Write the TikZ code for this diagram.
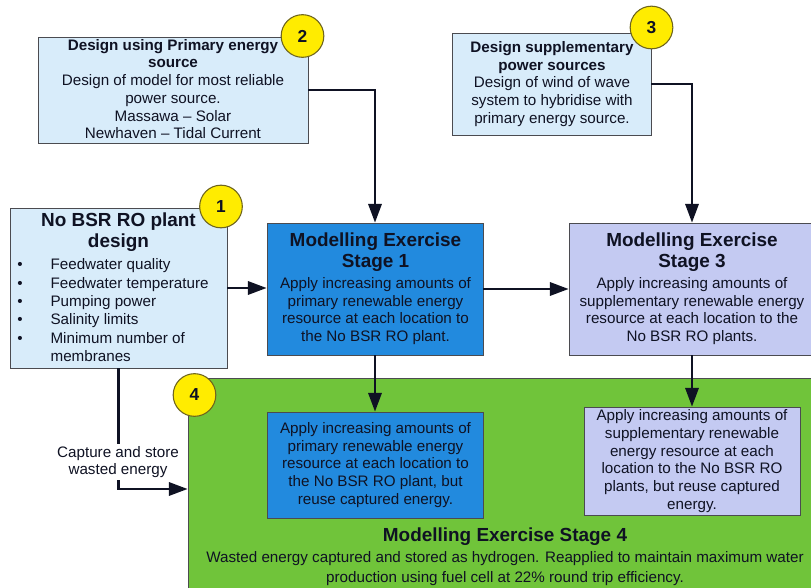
\documentclass[tikz,border=0pt]{standalone}
\usepackage{fontspec}
\setmainfont{Liberation Sans}
\usetikzlibrary{arrows.meta,fit}
\definecolor{lightbox}{RGB}{216,236,250}
\definecolor{stageblue}{RGB}{34,138,222}
\definecolor{lavender}{RGB}{196,202,242}
\definecolor{greenbox}{RGB}{112,196,58}
\definecolor{edgegray}{RGB}{75,75,80}
\definecolor{numyellow}{RGB}{255,236,0}
\definecolor{numedge}{RGB}{110,100,30}
\definecolor{inkcol}{RGB}{15,18,35}
\begin{document}
\begin{tikzpicture}[x=0.75pt,y=-0.75pt,
  box/.style={draw=edgegray, line width=0.6pt, inner sep=0pt},
  bodyf/.style={font=\fontsize{11.4}{13.3}\selectfont, text=inkcol},
  titlef/.style={font=\fontsize{14.2}{15.8}\selectfont\bfseries, text=inkcol},
  arr/.style={draw=inkcol, line width=1.6pt, -{Triangle[length=14pt,width=10pt]}},
  numc/.style={circle, draw=numedge, fill=numyellow, line width=0.8pt, minimum size=32pt, inner sep=0pt, font=\fontsize{13}{15}\selectfont\bfseries, text=inkcol}
]
\useasboundingbox (0,0) rectangle (811,588);
\fill[white] (0,0) rectangle (811,588);

% big green stage 4 box
\node[box, fill=greenbox, fit={(188,378) (822,600)}] (g) {};

% top boxes
\node[box, fill=lightbox, fit={(38,37) (308,143)}] (b2) {};
\node[box, fill=lightbox, fit={(452,33) (651,135)}] (b3) {};
\node[box, fill=lightbox, fit={(10,208) (227,368)}] (b1) {};

% stage boxes
\node[box, fill=stageblue, fit={(267,223) (483,355)}] (s1) {};
\node[box, fill=lavender, fit={(569,223) (815,355)}] (s3) {};
\node[box, fill=stageblue, fit={(267,412) (483,518)}] (s1r) {};
\node[box, fill=lavender, fit={(584,407) (800,515)}] (s3r) {};

% texts
\node[bodyf, align=center] (b2t) at (173,89) {\textbf{Design using Primary energy}\\\textbf{source}\\Design of model for most reliable\\power source.\\Massawa -- Solar\\Newhaven -- Tidal Current};
\node[bodyf, align=center] (b3t) at (552,84) {\textbf{Design supplementary}\\\textbf{power sources}\\Design of wind of wave\\system to hybridise with\\primary energy source.};

\node[titlef, align=center] (b1t) at (118.5,232) {No BSR RO plant\\design};
\node[bodyf, anchor=west, inner sep=0pt] (b1l) at (17,312) {\def\arraystretch{1.04}\begin{tabular}{@{}p{25pt}@{}l@{}}
\textbullet & Feedwater quality\\
\textbullet & Feedwater temperature\\
\textbullet & Pumping power\\
\textbullet & Salinity limits\\
\textbullet & Minimum number of\\
 & membranes
\end{tabular}};

\node[titlef, align=center] (s1t) at (375.5,252) {Modelling Exercise\\Stage 1};
\node[bodyf, align=center] (s1b) at (375.5,311) {Apply increasing amounts of\\primary renewable energy\\resource at each location to\\the No BSR RO plant.};

\node[titlef, align=center] (s3t) at (692,252) {Modelling Exercise\\Stage 3};
\node[bodyf, align=center] (s3b) at (692,311) {Apply increasing amounts of\\supplementary renewable energy\\resource at each location to the\\No BSR RO plants.};

\node[bodyf, align=center] (s1rt) at (375.5,465) {Apply increasing amounts of\\primary renewable energy\\resource at each location to\\the No BSR RO plant, but\\reuse captured energy.};
\node[bodyf, align=center] (s3rt) at (692,461) {Apply increasing amounts of\\supplementary renewable\\energy resource at each\\location to the No BSR RO\\plants, but reuse captured\\energy.};

\node[titlef] (gt) at (505,537) {Modelling Exercise Stage 4};
\node[bodyf, align=center, font=\fontsize{11.4}{15.5}\selectfont] (gb) at (505,568.5) {Wasted energy captured and stored as hydrogen. Reapplied to maintain maximum water\\production using fuel cell at 22\% round trip efficiency.};

% connectors
\draw[arr] (b2.east) -| (s1.north);
\draw[arr] (b3.east) -| (s3.north);
\draw[arr] (b1.east) -- (b1.east -| s1.west);
\draw[arr] (s1.east) -- (s1.east -| s3.west);
\draw[arr] (s1.south) -- (s1r.north);
\draw[arr] (s3.south) -- (s3.south |- s3r.north);
\draw[arr] (b1.south) |- (g.west);
\node[bodyf, align=center, fill=white, inner sep=1.5pt] (cap) at (118,462) {Capture and store\\wasted energy};

% number circles
\node[numc] (n2) at (302.5,36) {2};
\node[numc] (n3) at (651.5,27.5) {3};
\node[numc] (n1) at (221,206.5) {1};
\node[numc] (n4) at (194.5,395) {4};
\end{tikzpicture}
\end{document}
